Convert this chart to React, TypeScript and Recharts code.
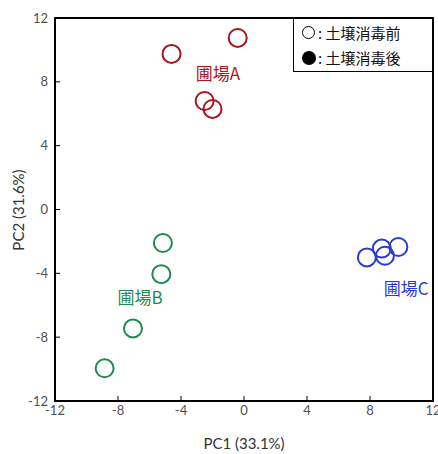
import { ScatterChart, Scatter, XAxis, YAxis, ReferenceArea } from 'recharts'

// Field A (red), B (green), C (blue) — PC scores, open circles = before soil disinfection
const fieldA = [
  { x: -4.6, y: 9.75 },
  { x: -0.4, y: 10.75 },
  { x: -2.5, y: 6.8 },
  { x: -2.0, y: 6.3 },
]
const fieldB = [
  { x: -5.15, y: -2.1 },
  { x: -5.25, y: -4.05 },
  { x: -7.05, y: -7.45 },
  { x: -8.85, y: -9.95 },
]
const fieldC = [
  { x: 7.8, y: -3.0 },
  { x: 8.75, y: -2.45 },
  { x: 8.95, y: -2.9 },
  { x: 9.8, y: -2.35 },
]
const groupLabels = [
  { x: -1.65, y: 8.6, text: '圃場A', color: '#A8161F' },
  { x: -6.6, y: -5.45, text: '圃場B', color: '#1F8A52' },
  { x: 10.3, y: -4.9, text: '圃場C', color: '#2B3BCB' },
]
const ticks = [-12, -8, -4, 0, 4, 8, 12]

const COLORS = { A: '#A8161F', B: '#1F8A52', C: '#2B3BCB' }
const FONT = 'Lato, "Open Sans", sans-serif'
const JP_FONT = '"Noto Sans CJK JP", sans-serif'
const TICK = { fontSize: 13, fill: '#505050', fontFamily: FONT }

const ring = (color: string) => (props: any) => (
  <circle cx={props.cx} cy={props.cy} r={9} fill="none" stroke={color} strokeWidth={2} />
)

const labelShape = (props: any) => (
  <text
    x={props.cx}
    y={props.cy}
    textAnchor="middle"
    dominantBaseline="central"
    fill={props.payload.color}
    fontSize={17}
    fontFamily={JP_FONT}
  >
    {props.payload.text}
  </text>
)

export default function App() {
  return (
    <div style={{ position: 'absolute', left: 0, top: 0, width: 438, height: 454, background: '#fff' }}>
      <ScatterChart width={438} height={454} margin={{ top: 18, right: 5, bottom: 0, left: 0 }}>
        <XAxis
          type="number"
          dataKey="x"
          domain={[-12, 12]}
          ticks={ticks}
          interval={0}
          tick={TICK}
          tickSize={-5}
          tickMargin={10}
          tickLine={{ stroke: '#000', strokeWidth: 1 }}
          axisLine={{ stroke: '#000', strokeWidth: 2 }}
          height={53}
          label={{ value: 'PC1 (33.1%)', position: 'insideBottom', offset: 5, fontSize: 15, fill: '#333', fontFamily: FONT }}
        />
        <YAxis
          type="number"
          dataKey="y"
          domain={[-12, 12]}
          ticks={ticks}
          interval={0}
          tick={TICK}
          tickSize={-5}
          tickMargin={12}
          tickLine={{ stroke: '#000', strokeWidth: 1 }}
          axisLine={{ stroke: '#000', strokeWidth: 2 }}
          width={55}
          label={{
            content: () => (
              <text x={18} y={210} transform="rotate(-90 18 210)" textAnchor="middle" dominantBaseline="central"
                fontSize={15} fill="#333" fontFamily={FONT}>
                PC2 (31.6%)
              </text>
            ),
          }}
        />
        <ReferenceArea x1={-12} x2={12} y1={-12} y2={12} fill="none" stroke="#000" strokeWidth={2} />
        <Scatter data={fieldA} shape={ring(COLORS.A)} isAnimationActive={false} />
        <Scatter data={fieldB} shape={ring(COLORS.B)} isAnimationActive={false} />
        <Scatter data={fieldC} shape={ring(COLORS.C)} isAnimationActive={false} />
        <Scatter data={groupLabels} shape={labelShape} isAnimationActive={false} />
      </ScatterChart>
      <div
        style={{
          position: 'absolute', left: 293, top: 18, width: 140, height: 54, boxSizing: 'border-box',
          border: '1px solid #000', background: '#fff', fontFamily: JP_FONT, fontSize: 15, color: '#111',
          padding: '1px 0 0 8px', lineHeight: '25px', whiteSpace: 'pre',
        }}
      >
        <div>
          <span style={{ display: 'inline-block', width: 11, height: 11, border: '1.5px solid #000', borderRadius: '50%', marginRight: 3 }} />
          {': 土壌消毒前'}
        </div>
        <div>
          <span style={{ display: 'inline-block', width: 14, height: 14, background: '#000', borderRadius: '50%', marginRight: 2, verticalAlign: '-1px' }} />
          {': 土壌消毒後'}
        </div>
      </div>
    </div>
  )
}
